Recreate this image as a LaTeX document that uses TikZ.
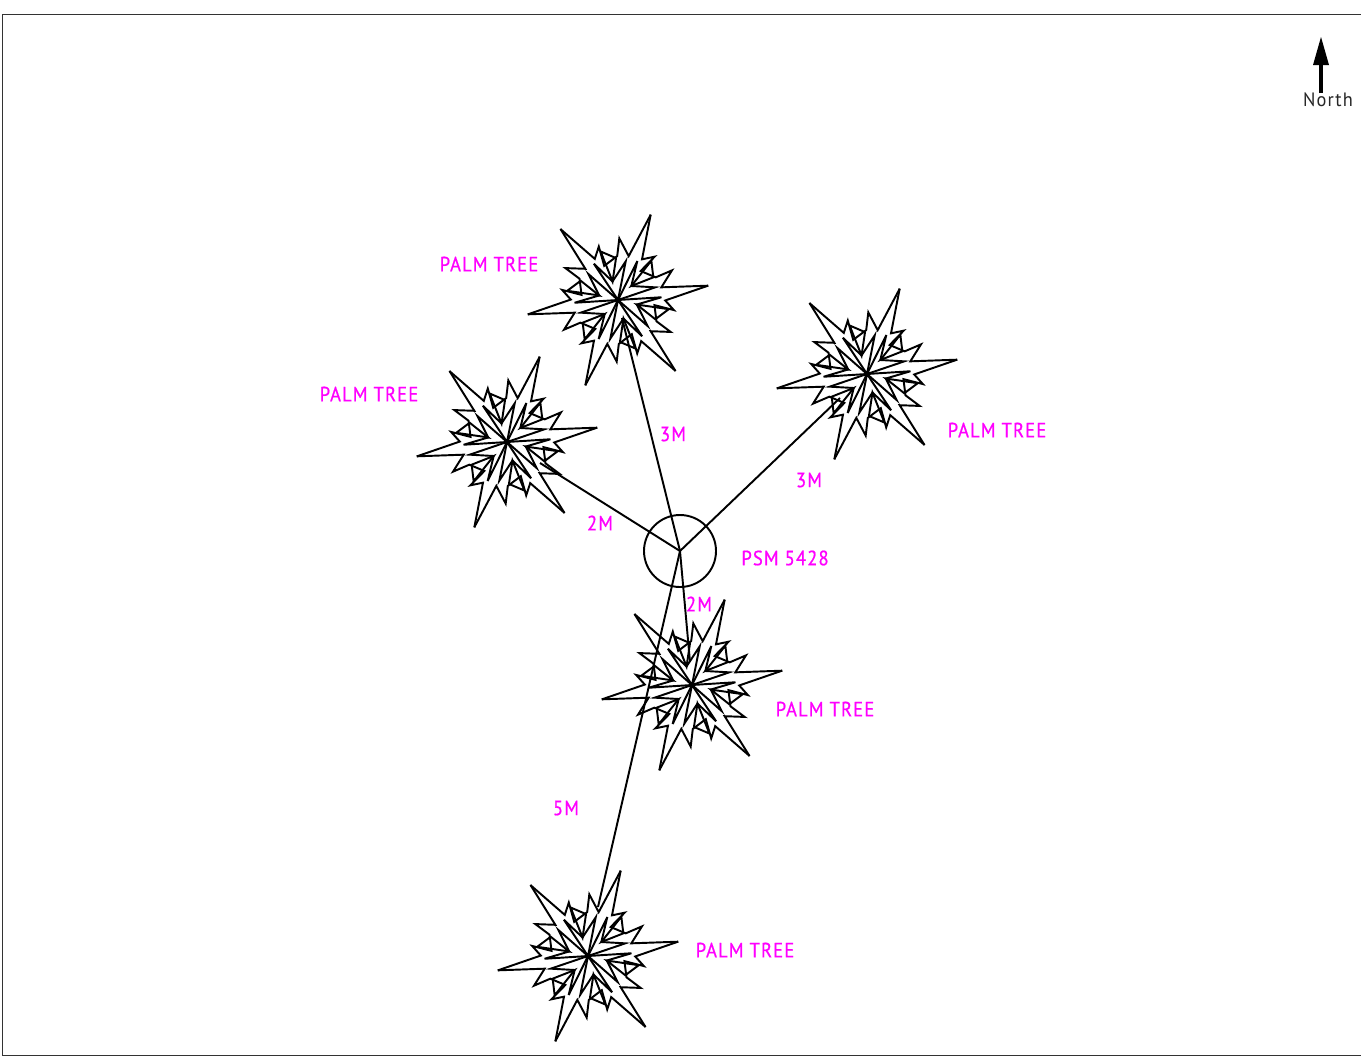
\documentclass[tikz,border=0pt]{standalone}
\usepackage{fontspec}
\setmainfont{PT Sans}
\usepackage{graphicx}
\definecolor{lblcol}{RGB}{255,0,255}
\newcommand{\tightlbl}[1]{\scalebox{0.9}[1]{\addfontfeature{LetterSpace=6,FakeBold=0.7}\fontsize{15.5}{16}\selectfont #1}}
\tikzset{
  px/.style={x=0.75pt,y=-0.75pt},
  ink/.style={line width=1.45pt,line join=miter,miter limit=6},
  lbl/.style={text=lblcol,inner sep=0pt,anchor=center},
  palm/.pic={
    \foreach \a in {0,-60,-120,-180,-240,-300}{
      \begin{scope}[rotate=\a,x=0.25pt,y=-0.25pt,ink]
        \draw (98,-256)--(72,-122)--(110,-130)--(68,-87)--(113,-68)--(162,-89)--(130,-38)--(270.7,-43);
        \draw (0,0)--(58,-117)--(40,-42)--(112,-38)--cycle;
        \draw (40,-42)--(100,-118)--(106,-68)--cycle;
      \end{scope}
    }
  }
}
\begin{document}
\begin{tikzpicture}[px]
\useasboundingbox (0,0) rectangle (1361,1057);
\fill[white] (0,0) rectangle (1361,1057);
\draw[line width=0.6pt,black!80] (1362,14) -- (2.5,14) -- (2.5,1055) -- (1362,1055);

\coordinate (c1) at (618,300);
\coordinate (c2) at (507,442);
\coordinate (c3) at (867,374);
\coordinate (c4) at (692,685);
\coordinate (c5) at (588,956);
\pic at (c1) {palm};
\pic at (c2) {palm};
\pic at (c3) {palm};
\pic at (c4) {palm};
\pic at (c5) {palm};

\node[draw,circle,line width=1.45pt,minimum size=54pt,inner sep=0pt,outer sep=0pt] (psm) at (680,551) {};
\coordinate (e1) at (622,318);
\coordinate (e2) at (540,463);
\coordinate (e3) at (840,398);
\coordinate (e4) at (690,662);
\coordinate (e5) at (598,907);
\foreach \e in {e1,e2,e3,e4,e5} \draw[ink] (psm.center) -- (\e);

\node[lbl] (p1) at (489,264) {\tightlbl{PALM TREE}};
\node[lbl] (p2) at (369,394) {\tightlbl{PALM TREE}};
\node[lbl] (p3) at (997,430) {\tightlbl{PALM TREE}};
\node[lbl] (p4) at (825,709) {\tightlbl{PALM TREE}};
\node[lbl] (p5) at (745,950) {\tightlbl{PALM TREE}};
\node[lbl] (d1) at (673,434) {\tightlbl{3M}};
\node[lbl] (d2) at (809,480) {\tightlbl{3M}};
\node[lbl] (d3) at (600,523) {\tightlbl{2M}};
\node[lbl] (d4) at (699,604) {\tightlbl{2M}};
\node[lbl] (d5) at (566,808) {\tightlbl{5M}};
\node[lbl] (psmtxt) at (785,558) {\tightlbl{PSM 5428}};

\coordinate (ntail) at (1321,93);
\coordinate (ntip) at (1321,37);
\draw[line width=3pt] (ntail) -- (1321,62);
\fill (ntip) -- (1329,65) -- (1313,65) -- cycle;
\node[inner sep=0pt,text=black!85] (north) at (1328,100) {\scalebox{0.95}[1]{\addfontfeature{LetterSpace=6}\fontsize{14.5}{15}\selectfont North}};
\end{tikzpicture}
\end{document}
